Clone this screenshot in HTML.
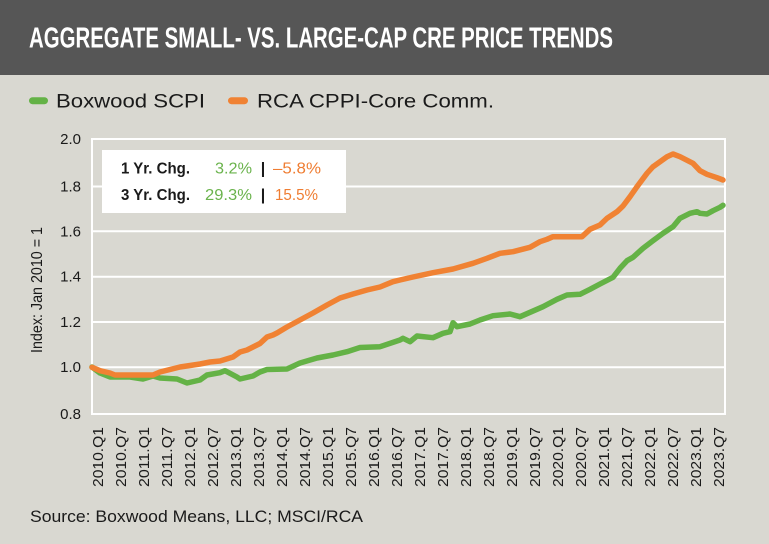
<!DOCTYPE html>
<html><head><meta charset="utf-8"><style>
html,body{margin:0;padding:0;background:#d9d8d1;}
svg{display:block;}
text{font-family:"Liberation Sans",sans-serif;}
</style></head><body>
<svg width="769" height="544" viewBox="0 0 769 544" xmlns="http://www.w3.org/2000/svg">
<rect x="0" y="0" width="769" height="544" fill="#d9d8d1"/>
<rect x="0" y="0" width="769" height="75" fill="#565656"/>
<text x="29" y="47.3" font-size="28.5" font-weight="bold" fill="#ffffff" textLength="584" lengthAdjust="spacingAndGlyphs">AGGREGATE SMALL- VS. LARGE-CAP CRE PRICE TRENDS</text>

<!-- legend -->
<line x1="32.5" y1="100.7" x2="44.5" y2="100.7" stroke="#64b246" stroke-width="7" stroke-linecap="round"/>
<text x="56" y="107.3" font-size="19.5" fill="#1a1a1a" textLength="149" lengthAdjust="spacingAndGlyphs">Boxwood SCPI</text>
<line x1="231.5" y1="100.7" x2="244.5" y2="100.7" stroke="#f08233" stroke-width="7" stroke-linecap="round"/>
<text x="257" y="107.3" font-size="19.5" fill="#1a1a1a" textLength="237" lengthAdjust="spacingAndGlyphs">RCA CPPI-Core Comm.</text>

<!-- gridlines & frame -->
<g stroke="#ffffff" stroke-width="2" fill="none">
<line x1="92" y1="186.5" x2="725" y2="186.5"/>
<line x1="92" y1="231.3" x2="725" y2="231.3"/>
<line x1="92" y1="276.7" x2="725" y2="276.7"/>
<line x1="92" y1="322" x2="725" y2="322"/>
<line x1="92" y1="367.2" x2="725" y2="367.2"/>
<rect x="92" y="139" width="633" height="275"/>
</g>

<!-- y labels -->
<g font-size="15" fill="#1a1a1a" text-anchor="end">
<text x="81" y="144">2.0</text>
<text x="81" y="191.5">1.8</text>
<text x="81" y="236.3">1.6</text>
<text x="81" y="281.7">1.4</text>
<text x="81" y="327">1.2</text>
<text x="81" y="372.2">1.0</text>
<text x="81" y="419">0.8</text>
</g>
<text transform="translate(42,290) rotate(-90)" font-size="16" fill="#1a1a1a" text-anchor="middle" textLength="126" lengthAdjust="spacingAndGlyphs">Index: Jan 2010 = 1</text>

<!-- series -->
<polyline fill="none" stroke="#64b246" stroke-width="5.5" stroke-linejoin="round" stroke-linecap="round" points="92,367 100,373 110,377 130,377 143,379 153,376 160,378 177,379 187,383 200,380 207,375 220,372.7 225,370.7 237,377 240,379 253,376 260,372 267,369.5 287,369 300,363 317,358 333,355 347,351.7 360,347.5 380,346.7 400,340 403,338.3 410,341.7 417,336 433,337.7 443,333.3 450,331.7 453,322.7 457,326.7 470,324 480,320 493,315.7 510,314 520,316.7 543,306.7 557,299.3 567,295 580,294.3 590,289.3 600,284 613,277.3 620,268.3 627,260.7 633,257.3 643,248.3 653,240.7 663,233.3 673,226.7 680,218.3 690,213.3 697,211.7 700,213.3 707,214 713,210.7 720,207.3 723,205.3"/>
<polyline fill="none" stroke="#f08233" stroke-width="5.5" stroke-linejoin="round" stroke-linecap="round" points="92,367.3 100,370.7 110,373 115,375 153,375 160,372 180,367 200,364 210,362 220,361 233,357 240,352 247,350 260,343.5 267,337 273,335 277,333 287,327 300,320 313,313 327,305 340,298 353,294 367,290 380,287 393,281.7 400,280 413,277 433,272.7 453,269 473,263.3 487,258.3 500,253.3 513,251.7 530,247.3 540,241.7 547,239.3 553,236.7 582,236.7 590,229.3 600,225 607,218.3 617,211.7 623,206 630,196.7 637,186.7 647,173.3 653,166.7 660,161.7 667,156.7 673,154 680,156.7 693,163.3 700,170.7 707,174.3 717,177.7 723,180"/>

<!-- stats box -->
<rect x="102" y="150" width="244" height="63" fill="#ffffff"/>
<g font-size="16">
<text x="121" y="173.3" font-weight="bold" fill="#1a1a1a" textLength="69" lengthAdjust="spacingAndGlyphs">1 Yr. Chg.</text>
<text x="215" y="173.3" fill="#6ab34c" textLength="37" lengthAdjust="spacingAndGlyphs">3.2%</text>
<text x="263" y="173.3" fill="#1a1a1a" text-anchor="middle" font-weight="bold">|</text>
<text x="273" y="173.3" fill="#ef7d32" textLength="48" lengthAdjust="spacingAndGlyphs">–5.8%</text>
<text x="121" y="200" font-weight="bold" fill="#1a1a1a" textLength="69" lengthAdjust="spacingAndGlyphs">3 Yr. Chg.</text>
<text x="205" y="200" fill="#6ab34c" textLength="47" lengthAdjust="spacingAndGlyphs">29.3%</text>
<text x="263" y="200" fill="#1a1a1a" text-anchor="middle" font-weight="bold">|</text>
<text x="275" y="200" fill="#ef7d32" textLength="43" lengthAdjust="spacingAndGlyphs">15.5%</text>
</g>

<!-- x labels -->
<g font-size="14.5" fill="#1a1a1a" text-anchor="end">
<text transform="translate(103,427) rotate(-90)" textLength="60" lengthAdjust="spacingAndGlyphs">2010.Q1</text>
<text transform="translate(126,427) rotate(-90)" textLength="60" lengthAdjust="spacingAndGlyphs">2010.Q7</text>
<text transform="translate(149,427) rotate(-90)" textLength="60" lengthAdjust="spacingAndGlyphs">2011.Q1</text>
<text transform="translate(172,427) rotate(-90)" textLength="60" lengthAdjust="spacingAndGlyphs">2011.Q7</text>
<text transform="translate(195,427) rotate(-90)" textLength="60" lengthAdjust="spacingAndGlyphs">2012.Q1</text>
<text transform="translate(218,427) rotate(-90)" textLength="60" lengthAdjust="spacingAndGlyphs">2012.Q7</text>
<text transform="translate(241,427) rotate(-90)" textLength="60" lengthAdjust="spacingAndGlyphs">2013.Q1</text>
<text transform="translate(264,427) rotate(-90)" textLength="60" lengthAdjust="spacingAndGlyphs">2013.Q7</text>
<text transform="translate(287,427) rotate(-90)" textLength="60" lengthAdjust="spacingAndGlyphs">2014.Q1</text>
<text transform="translate(310,427) rotate(-90)" textLength="60" lengthAdjust="spacingAndGlyphs">2014.Q7</text>
<text transform="translate(333,427) rotate(-90)" textLength="60" lengthAdjust="spacingAndGlyphs">2015.Q1</text>
<text transform="translate(356,427) rotate(-90)" textLength="60" lengthAdjust="spacingAndGlyphs">2015.Q7</text>
<text transform="translate(379,427) rotate(-90)" textLength="60" lengthAdjust="spacingAndGlyphs">2016.Q1</text>
<text transform="translate(402,427) rotate(-90)" textLength="60" lengthAdjust="spacingAndGlyphs">2016.Q7</text>
<text transform="translate(425,427) rotate(-90)" textLength="60" lengthAdjust="spacingAndGlyphs">2017.Q1</text>
<text transform="translate(448,427) rotate(-90)" textLength="60" lengthAdjust="spacingAndGlyphs">2017.Q7</text>
<text transform="translate(471,427) rotate(-90)" textLength="60" lengthAdjust="spacingAndGlyphs">2018.Q1</text>
<text transform="translate(494,427) rotate(-90)" textLength="60" lengthAdjust="spacingAndGlyphs">2018.Q7</text>
<text transform="translate(517,427) rotate(-90)" textLength="60" lengthAdjust="spacingAndGlyphs">2019.Q1</text>
<text transform="translate(540,427) rotate(-90)" textLength="60" lengthAdjust="spacingAndGlyphs">2019.Q7</text>
<text transform="translate(563,427) rotate(-90)" textLength="60" lengthAdjust="spacingAndGlyphs">2020.Q1</text>
<text transform="translate(586,427) rotate(-90)" textLength="60" lengthAdjust="spacingAndGlyphs">2020.Q7</text>
<text transform="translate(609,427) rotate(-90)" textLength="60" lengthAdjust="spacingAndGlyphs">2021.Q1</text>
<text transform="translate(632,427) rotate(-90)" textLength="60" lengthAdjust="spacingAndGlyphs">2021.Q7</text>
<text transform="translate(655,427) rotate(-90)" textLength="60" lengthAdjust="spacingAndGlyphs">2022.Q1</text>
<text transform="translate(678,427) rotate(-90)" textLength="60" lengthAdjust="spacingAndGlyphs">2022.Q7</text>
<text transform="translate(701,427) rotate(-90)" textLength="60" lengthAdjust="spacingAndGlyphs">2023.Q1</text>
<text transform="translate(724,427) rotate(-90)" textLength="60" lengthAdjust="spacingAndGlyphs">2023.Q7</text>
</g>

<text x="30" y="522" font-size="17" fill="#1a1a1a" textLength="333" lengthAdjust="spacingAndGlyphs">Source: Boxwood Means, LLC; MSCI/RCA</text>
</svg>
</body></html>
